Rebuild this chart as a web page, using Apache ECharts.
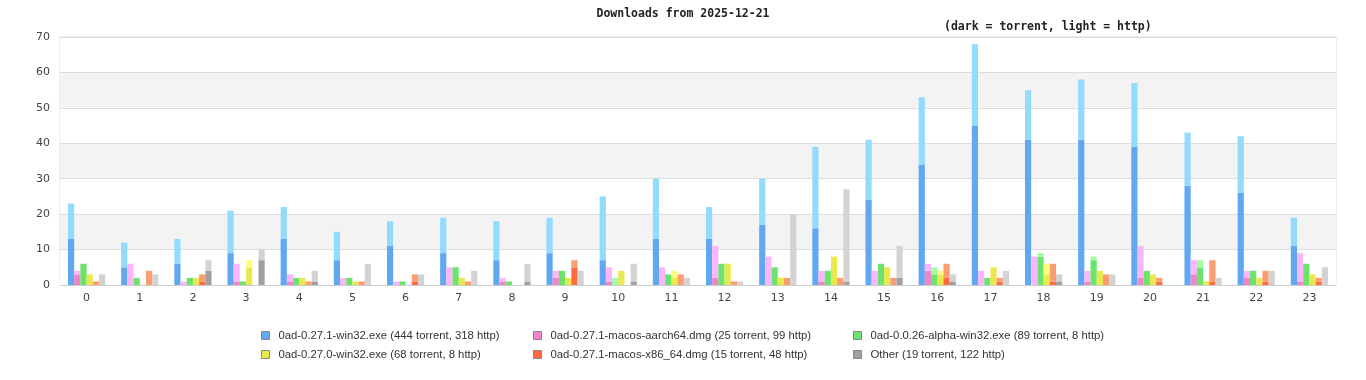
<!DOCTYPE html>
<html><head><meta charset="utf-8">
<script src="https://cdn.jsdelivr.net/npm/echarts@6/dist/echarts.min.js"></script>
<style>html,body{margin:0;padding:0;background:#fff}#c{width:1366px;height:380px}</style>
</head><body><div id="c"></div>
<script>
const hours = ['0','1','2','3','4','5','6','7','8','9','10','11','12','13','14','15','16','17','18','19','20','21','22','23'];
const yTicks = [0,10,20,30,40,50,60,70];
const fileLabels = [
  '0ad-0.27.1-win32.exe (444 torrent, 318 http)',
  '0ad-0.27.1-macos-aarch64.dmg (25 torrent, 99 http)',
  '0ad-0.0.26-alpha-win32.exe (89 torrent, 8 http)',
  '0ad-0.27.0-win32.exe (68 torrent, 8 http)',
  '0ad-0.27.1-macos-x86_64.dmg (15 torrent, 48 http)',
  'Other (19 torrent, 122 http)'
];
const win32Torrent = [13,5,6,9,13,7,11,9,7,9,7,13,13,17,16,24,34,45,41,41,39,28,26,11];
const win32Http    = [10,7,7,12,9,8,7,10,11,10,18,17,9,13,23,17,19,23,14,17,18,15,16,8];
const aarchTorrent = [3,0,0,1,1,0,0,0,1,2,1,0,2,0,1,0,4,0,0,1,2,3,2,1];
const aarchHttp    = [1,6,1,5,2,2,1,5,1,2,4,5,9,8,3,4,2,4,8,3,9,4,2,8];
const alphaTorrent = [6,2,2,1,2,2,1,5,1,4,0,3,6,5,4,6,3,2,8,7,4,5,4,6];
const alphaHttp    = [0,0,0,0,0,0,0,0,0,0,2,0,0,0,0,0,2,0,1,1,0,2,0,0];
const w270Torrent  = [3,0,2,5,2,1,0,2,0,2,4,2,6,2,8,5,3,5,3,4,3,1,2,3];
const w270Http     = [0,0,0,2,0,0,0,0,0,0,0,2,0,0,0,0,1,0,3,0,0,0,0,0];
const x86Torrent   = [0,0,1,0,0,0,1,0,0,5,0,0,0,0,0,0,2,1,1,0,1,1,1,1];
const x86Http      = [1,4,2,0,1,1,2,1,0,2,0,3,1,2,2,2,4,1,5,3,1,6,3,1];
const otherTorrent = [0,0,4,7,1,0,0,0,1,0,1,0,0,0,1,2,1,0,1,0,0,0,0,0];
const otherHttp    = [3,3,3,3,3,6,3,4,5,4,5,2,1,20,26,9,2,4,2,3,0,2,4,5];

const torrentData = [win32Torrent, aarchTorrent, alphaTorrent, w270Torrent, x86Torrent, otherTorrent];
const httpData = [win32Http, aarchHttp, alphaHttp, w270Http, x86Http, otherHttp];
const darkColors = ['#61a8f3','#f084c8','#6ae46a','#e8e84f','#ff6a40','#a0a0a0'];
const lightColors = ['#92dbfd','#fdb6fd','#a3fda3','#fdfd80','#fd9c70','#d3d3d3'];

const series = [];
for (let i = 0; i < 6; i++) {
  series.push({
    type: 'bar', name: fileLabels[i], stack: 's' + i, data: torrentData[i],
    itemStyle: { color: darkColors[i] }, barGap: '0%', barCategoryGap: '30%',
    emphasis: { disabled: true }
  });
  series.push({
    type: 'bar', name: fileLabels[i] + ' http', stack: 's' + i, data: httpData[i],
    itemStyle: { color: lightColors[i] }, barGap: '0%', barCategoryGap: '30%',
    emphasis: { disabled: true }
  });
}

const legendCommon = {
  orient: 'vertical', top: 325, itemGap: 8, itemWidth: 8, itemHeight: 8, icon: 'rect',
  textStyle: { fontFamily: 'Liberation Sans', fontSize: 11.3, color: '#333', padding: [0,0,0,4] },
  itemStyle: { borderColor: '#888', borderWidth: 1 }
};

const chart = echarts.init(document.getElementById('c'), null, { renderer: 'canvas' });
chart.setOption({
  animation: false,
  backgroundColor: '#fff',
  title: [
    { text: 'Downloads from 2025-12-21', left: 'center', top: 3,
      textStyle: { fontFamily: 'DejaVu Sans Mono', fontWeight: 'bold', fontSize: 11.5, color: '#222' } },
    { text: '(dark = torrent, light = http)', left: 939, top: 16,
      textStyle: { fontFamily: 'DejaVu Sans Mono', fontWeight: 'bold', fontSize: 11.5, color: '#222' } }
  ],
  legend: [
    Object.assign({}, legendCommon, { left: 256, data: [fileLabels[0], fileLabels[3]] }),
    Object.assign({}, legendCommon, { left: 528, data: [fileLabels[1], fileLabels[4]] }),
    Object.assign({}, legendCommon, { left: 848, data: [fileLabels[2], fileLabels[5]] })
  ],
  grid: { left: 60, right: 30, top: 37, bottom: 95, show: true, borderColor: '#ddd', borderWidth: 1, backgroundColor: 'transparent' },
  xAxis: {
    type: 'category', data: hours,
    axisLine: { lineStyle: { color: '#ccc' } },
    axisTick: { show: false },
    axisLabel: { fontFamily: 'DejaVu Sans', fontSize: 11, color: '#444', margin: 8 }
  },
  yAxis: {
    type: 'value', min: yTicks[0], max: yTicks[yTicks.length - 1], interval: 10,
    axisLine: { show: false }, axisTick: { show: false },
    axisLabel: { fontFamily: 'DejaVu Sans', fontSize: 11, color: '#444', margin: 10 },
    splitLine: { lineStyle: { color: '#ddd' } },
    splitArea: { show: true, areaStyle: { color: ['#ffffff', '#f3f3f3'] } }
  },
  series: series
});
</script>
</body></html>
